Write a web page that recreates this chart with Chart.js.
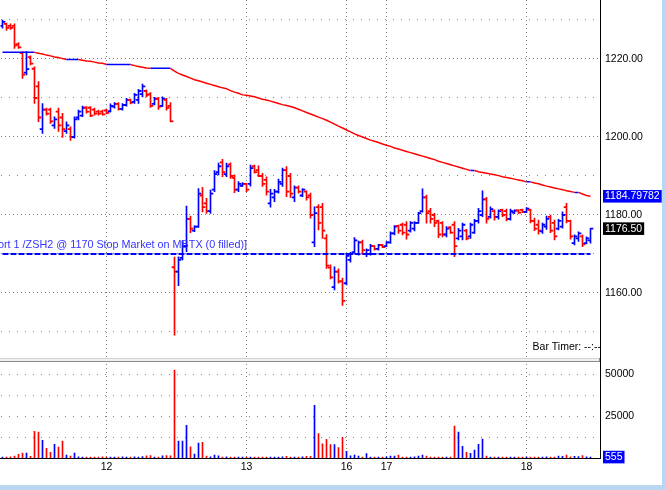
<!DOCTYPE html>
<html>
<head>
<meta charset="utf-8">
<title>ZSH2 intraday</title>
<script src="https://cdn.jsdelivr.net/npm/chart.js@4.4.1/dist/chart.umd.min.js"></script>
<style>
  html, body { margin: 0; padding: 0; background: #b9d7f1; }
  #wrap { width: 662px; height: 485px; background: #fff; }
</style>
</head>
<body>
<div id="wrap"><canvas id="zsChart" width="662" height="485"></canvas></div>
<script>
// sessions (x axis categories)
const DAYS = ['11', '12', '13', '16', '17', '18'];
const BARS_PER_DAY = [26, 35, 25, 10, 35, 17];
const EMPTY_SLOTS = 2;

const OPEN = [
  1228.5,1229.0,1228.5,1228.5,1223.8,1221.5,1216.5,1220.5,1217.5,1213.0,
  1202.0,1207.0,1207.0,1203.0,1206.5,1205.0,1201.5,1202.0,1200.0,1205.0,
  1205.5,1207.5,1207.5,1207.0,1206.5,1206.5,1206.8,1206.6,1207.8,1208.5,
  1207.2,1208.2,1209.5,1209.0,1209.5,1211.0,1211.8,1211.0,1208.5,1209.8,
  1208.0,1209.5,1208.0,1166.6,1165.5,1169.0,1172.0,1179.0,1176.0,1177.0,
  1185.0,1183.0,1181.0,1186.5,1191.0,1193.5,1190.5,1193.0,1189.5,1186.5,
  1187.5,1188.0,1188.0,1192.5,1191.5,1190.0,1189.0,1183.0,1184.5,1186.0,
  1188.0,1191.5,1190.0,1184.5,1187.0,1185.0,1186.0,1185.0,1173.0,1182.0,
  1182.0,1174.0,1166.5,1161.5,1165.5,1163.0,1162.5,1168.5,1170.5,1170.0,
  1173.0,1170.0,1170.0,1172.0,1171.3,1172.3,1172.0,1173.0,1175.3,1177.2,
  1177.5,1177.5,1176.0,1176.5,1178.0,1181.0,1184.5,1181.0,1180.0,1178.5,
  1178.0,1175.0,1176.8,1177.5,1174.0,1174.5,1176.0,1174.5,1175.5,1178.5,
  1180.0,1184.0,1179.5,1181.0,1179.5,1181.3,1181.0,1179.0,1180.6,1181.2,
  1181.3,1180.8,1181.3,1178.5,1177.5,1175.8,1177.0,1179.5,1178.0,1176.5,
  1177.0,1182.0,1178.5,1172.8,1174.0,1174.5,1172.8,1173.5
];
const HIGH = [
  1230.0,1229.2,1229.0,1229.0,1224.2,1221.9,1221.9,1220.8,1218.0,1214.2,
  1208.6,1207.4,1207.4,1205.2,1207.4,1206.1,1203.9,1202.6,1205.2,1206.9,
  1207.9,1207.8,1207.8,1207.4,1206.9,1206.9,1207.1,1208.5,1208.8,1208.8,
  1208.6,1209.9,1209.7,1211.2,1212.2,1213.6,1212.1,1211.4,1210.2,1210.2,
  1210.3,1209.9,1208.8,1169.2,1169.3,1173.4,1182.3,1179.7,1177.2,1186.8,
  1187.1,1184.3,1186.4,1191.4,1193.3,1194.3,1193.3,1193.4,1190.3,1188.6,
  1188.3,1188.1,1192.8,1192.8,1192.6,1190.7,1189.8,1186.6,1186.6,1189.2,
  1192.0,1192.4,1190.7,1187.5,1187.5,1186.8,1186.2,1185.6,1182.1,1182.7,
  1183.0,1175.0,1167.2,1166.7,1166.2,1163.8,1170.2,1170.4,1174.2,1173.3,
  1173.6,1171.3,1172.5,1172.1,1172.5,1172.5,1173.2,1175.7,1177.3,1177.4,
  1177.9,1178.3,1178.3,1178.3,1180.7,1186.7,1185.1,1181.7,1180.4,1178.7,
  1178.3,1177.0,1177.0,1178.3,1176.6,1177.9,1176.3,1177.9,1178.9,1181.7,
  1186.2,1184.5,1182.1,1181.3,1181.3,1181.5,1181.5,1181.5,1181.3,1181.3,
  1181.5,1181.9,1181.5,1179.2,1178.7,1177.9,1179.7,1180.0,1178.7,1178.9,
  1180.8,1183.0,1178.7,1174.9,1175.7,1174.9,1174.4,1176.5
];
const LOW = [
  1227.9,1227.3,1227.6,1222.7,1222.7,1215.0,1215.9,1218.5,1208.6,1203.9,
  1200.9,1205.6,1203.5,1202.2,1201.4,1199.9,1200.9,1199.1,1199.7,1204.4,
  1205.2,1206.1,1205.2,1205.6,1205.6,1205.6,1205.9,1206.4,1207.4,1206.9,
  1206.9,1207.9,1208.5,1208.6,1208.6,1210.3,1210.3,1207.6,1208.2,1207.1,
  1207.8,1206.9,1203.9,1149.2,1161.9,1168.5,1170.6,1175.5,1175.7,1176.8,
  1180.8,1180.4,1180.4,1186.0,1190.3,1189.8,1189.8,1189.4,1185.7,1186.0,
  1187.3,1186.0,1187.4,1190.7,1189.8,1187.3,1185.1,1182.0,1183.4,1185.6,
  1187.3,1184.7,1184.5,1183.4,1185.6,1184.7,1183.8,1179.2,1171.9,1176.2,
  1174.0,1166.3,1163.6,1160.8,1162.5,1156.8,1162.1,1167.9,1170.2,1169.7,
  1169.9,1169.3,1169.7,1171.0,1171.0,1171.6,1171.9,1172.7,1174.9,1175.3,
  1174.9,1173.8,1175.6,1175.9,1177.9,1180.7,1177.9,1177.9,1177.0,1174.2,
  1174.4,1174.4,1175.3,1169.3,1173.6,1173.6,1173.6,1174.0,1175.3,1177.9,
  1179.6,1177.9,1179.2,1178.7,1178.9,1179.6,1178.5,1178.7,1180.4,1180.4,
  1180.6,1180.6,1178.0,1176.0,1175.1,1175.3,1176.3,1175.5,1173.6,1176.2,
  1176.6,1178.0,1173.8,1172.3,1173.2,1171.9,1172.6,1172.8
];
const CLOSE = [
  1229.5,1228.0,1228.0,1223.5,1223.0,1216.0,1217.4,1218.8,1210.0,1205.0,
  1207.0,1206.0,1204.0,1204.5,1203.0,1202.0,1203.0,1200.0,1204.5,1206.5,
  1207.5,1206.5,1205.5,1206.0,1206.0,1205.8,1206.2,1208.0,1208.5,1207.2,
  1208.2,1209.5,1208.8,1210.8,1211.8,1213.0,1210.8,1208.0,1209.8,1207.8,
  1209.8,1207.5,1204.0,1165.5,1168.5,1172.0,1179.0,1176.5,1177.0,1185.5,
  1182.0,1181.0,1185.5,1190.5,1192.5,1191.0,1192.5,1190.0,1186.5,1188.0,
  1188.0,1186.5,1192.0,1191.0,1190.0,1188.0,1186.0,1185.5,1186.0,1188.5,
  1191.5,1186.0,1185.5,1187.0,1186.0,1186.5,1184.5,1180.0,1180.5,1178.0,
  1176.0,1167.0,1164.0,1165.5,1163.0,1158.0,1169.5,1170.0,1173.5,1173.0,
  1171.0,1171.0,1172.0,1171.3,1172.3,1171.8,1173.0,1175.3,1177.0,1176.0,
  1175.5,1175.0,1178.0,1178.0,1180.5,1184.5,1180.5,1179.0,1178.0,1175.0,
  1175.0,1176.5,1175.5,1172.0,1176.0,1177.5,1174.0,1177.5,1178.5,1181.0,
  1184.0,1179.0,1181.5,1179.5,1181.0,1180.0,1179.0,1181.0,1181.1,1180.6,
  1180.8,1181.6,1178.5,1176.5,1176.0,1177.5,1179.0,1176.0,1174.5,1178.5,
  1180.0,1178.5,1174.5,1174.5,1175.3,1172.5,1174.0,1176.5
];
const VOLUME = [
  600,500,700,1200,2200,3000,3000,1000,15900,15500,
  10500,5800,3400,8100,6500,10000,1800,1100,2900,700,
  500,600,500,600,500,700,500,600,500,600,
  700,500,600,700,600,800,1300,1400,600,500,
  1300,1400,1300,52300,10100,10100,19500,6600,2300,8900,
  9300,1200,700,1800,1300,600,700,600,500,600,
  500,600,500,600,500,600,600,500,600,500,
  700,1000,500,600,500,700,1000,1000,31400,14500,
  8500,11100,8000,8000,6200,12300,4000,1300,1800,1100,
  500,2700,500,500,600,500,700,1200,1200,1800,
  600,500,600,700,1200,1800,1100,500,600,500,
  600,500,600,19000,15500,7000,3400,2800,4700,8200,
  11200,1200,600,500,600,500,600,500,600,500,
  600,500,600,500,600,500,700,500,600,1100,
  1000,1800,700,1000,800,1500,700,555
];
// moving average
const MA = [
  1221.7,1221.7,1221.7,1221.7,1221.7,1221.7,1221.7,1221.7,1221.7,
  1221.5,1221.3,1221.0,1220.8,1220.5,1220.4,1220.1,1219.9,
  1219.9,1219.9,1219.9,
  1219.7,1219.5,1219.4,1219.2,1219.0,1218.9,
  1218.6,1218.6,1218.6,1218.6,1218.6,1218.6,1218.6,
  1218.3,1218.1,1217.9,1217.7,
  1217.6,1217.6,1217.6,1217.6,1217.6,1217.6,
  1216.9,1216.3,1215.9,1215.5,1215.1,1214.7,1214.4,1214.1,1213.8,1213.5,
  1213.2,1212.9,1212.6,1212.4,1211.9,1211.5,1211.2,1210.8,1210.7,1210.5,
  1210.3,1210.0,1209.7,1209.5,1209.2,1208.9,1208.6,1208.3,1208.1,1207.8,
  1207.5,1207.1,1206.7,1206.3,1205.9,1205.5,1205.1,1204.7,1204.3,1203.8,
  1203.3,1202.8,1202.3,1201.8,1201.3,1200.8,1200.4,1200.0,1199.6,1199.2,
  1198.9,1198.6,1198.2,1197.9,1197.6,1197.2,1196.9,1196.6,1196.3,1196.0,
  1195.7,1195.4,1195.1,1194.8,1194.5,1194.2,1193.8,1193.5,1193.2,1192.9,
  1192.6,1192.3,1192.0,1191.7,1191.4,1191.4,1191.1,1190.9,1190.7,1190.5,
  1190.3,1190.1,1189.8,1189.6,1189.4,1189.2,1189.0,1188.8,1188.5,1188.5,
  1188.2,1188.0,1187.7,1187.4,1187.2,1186.9,1186.7,1186.5,1186.2,1186.0,
  1185.8,1185.8,1185.4,1185.0,1184.79782
];

const ORDER_PRICE = 1170;
const ORDER_TEXT = '[Short 1 /ZSH2 @ 1170 Stop Market on MBTX (0 filled)]';
const PRICE_TICKS = [1150, 1160, 1170, 1180, 1190, 1200, 1210, 1220, 1230];
const VOLUME_TICKS = [12500, 25000, 37500, 50000];

const RED = '#ff0000';
const BLUE = '#0000ff';
const GRID = '#808080';
const NONE = 'rgba(0,0,0,0)';
const FONT = '"Liberation Sans", Arial, sans-serif';

const labels = [];
DAYS.forEach((d, k) => {
  for (let n = 0; n < BARS_PER_DAY[k]; n++) labels.push(d);
});
for (let n = 0; n < EMPTY_SLOTS; n++) labels.push('');

const isDayStart = i => i > 0 && labels[i] !== '' && labels[i] !== labels[i - 1];
const barColors = CLOSE.map((c, i) => c >= OPEN[i] ? BLUE : RED);
const lastMA = MA[MA.length - 1];
const lastClose = CLOSE[CLOSE.length - 1];
const lastVolume = VOLUME[VOLUME.length - 1];
const TICK = 0.15; // half height of open / close ticks, in price units

const isPriceMarker = v => v === lastMA || v === lastClose;
const isMajorPrice = c => !!(c.tick && c.tick.value % 20 === 0);

Chart.defaults.font.family = FONT;
Chart.defaults.font.size = 10.5;
Chart.defaults.color = '#000';

// order label, bar timer and the pane separator
const panelDecor = {
  id: 'panelDecor',
  afterDatasetsDraw(chart) {
    const {ctx, chartArea, scales: {x, yPrice}} = chart;
    ctx.save();
    ctx.font = '10.8px ' + FONT;
    ctx.fillStyle = '#3434ff';
    ctx.textAlign = 'right';
    ctx.textBaseline = 'middle';
    ctx.fillText(ORDER_TEXT, x.getPixelForValue(61) + 0.5, yPrice.getPixelForValue(ORDER_PRICE) - 9);

    ctx.font = '10.5px ' + FONT;
    ctx.fillStyle = '#000';
    ctx.fillText('Bar Timer: --:--', chartArea.right + 0.5, yPrice.bottom - 11);
    ctx.restore();
  },
  afterDraw(chart) {
    const {ctx, chartArea, scales: {yPrice}} = chart;
    const top = Math.round(yPrice.bottom);
    const w = chartArea.right - 0.5;
    ctx.save();
    ctx.fillStyle = '#efefef';
    ctx.fillRect(0, top, w, 4);
    ctx.fillStyle = '#d4d4d4';
    ctx.fillRect(0, top, w, 1);
    ctx.fillStyle = '#8a8a8a';
    ctx.fillRect(0, top + 3, w, 1);
    ctx.fillRect(w - 1, top, 1, 4);
    ctx.restore();
  }
};

new Chart(document.getElementById('zsChart'), {
  type: 'bar',
  data: {
    labels: labels,
    datasets: [
      {
        type: 'line',
        label: 'Order',
        data: CLOSE.map(() => ORDER_PRICE),
        yAxisID: 'yPrice',
        borderColor: BLUE,
        borderWidth: 2,
        borderDash: [6, 2],
        pointRadius: 0,
        order: 0
      },
      {
        type: 'line',
        label: 'MA',
        data: MA,
        yAxisID: 'yPrice',
        borderColor: BLUE,
        borderWidth: 1.5,
        pointRadius: 0,
        segment: {
          borderColor: c => c.p1.parsed.y < c.p0.parsed.y ? RED : BLUE
        },
        order: 1
      },
      {
        label: 'Open',
        data: OPEN.map(o => [o - TICK, o + TICK]),
        yAxisID: 'yPrice',
        backgroundColor: barColors,
        barThickness: 2.5,
        order: 2
      },
      {
        label: 'Close',
        data: CLOSE.map(c => [c - TICK, c + TICK]),
        yAxisID: 'yPrice',
        backgroundColor: barColors,
        barThickness: 2.5,
        order: 2
      },
      {
        label: 'Range',
        data: LOW.map((l, i) => [l, HIGH[i]]),
        yAxisID: 'yPrice',
        backgroundColor: barColors,
        grouped: false,
        barThickness: 1,
        order: 2
      },
      {
        label: 'Volume',
        data: VOLUME,
        yAxisID: 'yVol',
        backgroundColor: barColors,
        grouped: false,
        barThickness: 1,
        order: 2
      }
    ]
  },
  options: {
    responsive: false,
    animation: false,
    events: [],
    layout: { padding: { left: 0.5, top: 0, right: 0, bottom: 0 } },
    plugins: {
      legend: { display: false },
      tooltip: { enabled: false }
    },
    scales: {
      x: {
        type: 'category',
        offset: true,
        afterFit: s => { s.height = 27; s.paddingLeft = 0; s.paddingRight = 0; },
        grid: {
          offset: false,
          drawTicks: false,
          color: c => (c.tick && isDayStart(c.index)) ? GRID : NONE
        },
        border: { color: '#000', width: 1, dash: [1, 3] },
        ticks: {
          autoSkip: false,
          maxRotation: 0,
          padding: 3,
          callback: (v, i) => isDayStart(i) ? labels[i] : ''
        }
      },
      yPrice: {
        type: 'linear',
        position: 'right',
        stack: 'panes',
        stackWeight: 358,
        min: 1143.333,
        max: 1235.128,
        afterBuildTicks: s => {
          s.ticks = [...PRICE_TICKS, lastClose, lastMA].sort((a, b) => a - b).map(v => ({ value: v }));
        },
        afterFit: s => { s.width = 61.5; s.paddingTop = 0; s.paddingBottom = 0; },
        grid: {
          drawTicks: false,
          color: c => (c.tick && isPriceMarker(c.tick.value)) ? NONE : GRID
        },
        border: {
          color: '#000',
          width: 1,
          dash: c => isMajorPrice(c) ? [1, 3] : [1, 7],
          dashOffset: c => isMajorPrice(c) ? 3.5 : 7.5
        },
        ticks: {
          autoSkip: false,
          padding: 4.5,
          callback: v => {
            if (v === lastMA) return lastMA.toFixed(5);
            if (v === lastClose) return lastClose.toFixed(2);
            return v % 20 === 0 ? v.toFixed(2) : '';
          },
          color: c => (c.tick && isPriceMarker(c.tick.value)) ? '#fff' : '#000',
          showLabelBackdrop: c => !!(c.tick && isPriceMarker(c.tick.value)),
          backdropColor: c => (c.tick && c.tick.value === lastMA) ? BLUE : '#000',
          backdropPadding: { left: 2, right: 2, top: 0, bottom: 0 }
        }
      },
      yVol: {
        type: 'linear',
        position: 'right',
        stack: 'panes',
        stackWeight: 100,
        min: 0,
        max: 59524,
        afterBuildTicks: s => {
          s.ticks = [lastVolume, ...VOLUME_TICKS].map(v => ({ value: v }));
        },
        afterFit: s => { s.width = 61.5; s.paddingTop = 0; s.paddingBottom = 0; },
        grid: {
          drawTicks: false,
          color: c => (c.tick && c.tick.value === lastVolume) ? NONE : GRID
        },
        border: { color: '#000', width: 1, dash: [1, 7], dashOffset: 7.5 },
        ticks: {
          autoSkip: false,
          padding: 4.5,
          callback: v => {
            if (v === lastVolume) return String(lastVolume);
            return v % 25000 === 0 ? String(v) : '';
          },
          color: c => (c.tick && c.tick.value === lastVolume) ? '#fff' : '#000',
          showLabelBackdrop: c => !!(c.tick && c.tick.value === lastVolume),
          backdropColor: BLUE,
          backdropPadding: { left: 2, right: 2, top: 0, bottom: 0 }
        }
      }
    }
  },
  plugins: [panelDecor]
});
</script>
</body>
</html>
